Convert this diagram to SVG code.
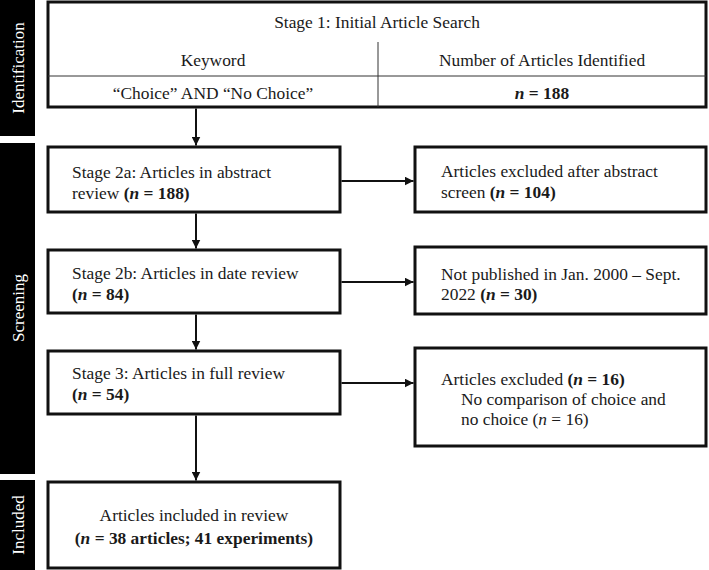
<svg xmlns="http://www.w3.org/2000/svg" width="709" height="570" viewBox="0 0 709 570">
<style>
.box{fill:#fff;stroke:#111;stroke-width:3}
.bar{fill:#000}
.thin{stroke:#333;stroke-width:1;fill:none}
.t{font-family:"Liberation Serif","Times New Roman",serif;font-size:17.4px;fill:#1a1a1a}
.m{text-anchor:middle}
.lab{font-family:"Liberation Serif","Times New Roman",serif;font-size:17px;fill:#fff;text-anchor:middle}
.b{font-weight:bold}
.i{font-style:italic}
.conn{stroke:#111;stroke-width:2;fill:none}
</style>
<defs>
<marker id="ah" viewBox="0 0 10 10" refX="10" refY="5" markerWidth="4.5" markerHeight="4.5" orient="auto" markerUnits="strokeWidth">
<path d="M0,0 L10,5 L0,10 z" fill="#111"/>
</marker>
</defs>

<g id="phase-labels">
<rect class="bar" x="0" y="0" width="35" height="136"/>
<text class="lab" transform="translate(23.5,68) rotate(-90)">Identification</text>
<rect class="bar" x="0" y="143" width="35" height="331"/>
<text class="lab" transform="translate(23.5,308) rotate(-90)">Screening</text>
<rect class="bar" x="0" y="480" width="35" height="90"/>
<text class="lab" transform="translate(23.5,525) rotate(-90)">Included</text>
</g>

<g id="stage1">
<rect class="box" x="48" y="2" width="658" height="105"/>
<line class="thin" x1="48" y1="76" x2="706" y2="76"/>
<line class="thin" x1="378" y1="42" x2="378" y2="107"/>
<text class="t m" x="377" y="28">Stage 1: Initial Article Search</text>
<text class="t m" x="213" y="66">Keyword</text>
<text class="t m" x="542" y="66">Number of Articles Identified</text>
<text class="t m" x="213" y="99">“Choice” AND “No Choice”</text>
<text class="t m b" x="542" y="99"><tspan class="i">n</tspan> = 188</text>
</g>

<g id="stage2a">
<rect class="box" x="48" y="147" width="292" height="65"/>
<text class="t" x="72" y="178">Stage 2a: Articles in abstract</text>
<text class="t" x="72" y="199">review <tspan class="b">(<tspan class="i">n</tspan> = 188)</tspan></text>
</g>

<g id="excl1">
<rect class="box" x="415" y="147" width="291" height="65"/>
<text class="t" x="441" y="177">Articles excluded after abstract</text>
<text class="t" x="441" y="198">screen <tspan class="b">(<tspan class="i">n</tspan> = 104)</tspan></text>
</g>

<g id="stage2b">
<rect class="box" x="48" y="250" width="292" height="63"/>
<text class="t" x="72" y="279">Stage 2b: Articles in date review</text>
<text class="t b" x="72" y="300">(<tspan class="i">n</tspan> = 84)</text>
</g>

<g id="excl2">
<rect class="box" x="415" y="247" width="291" height="67"/>
<text class="t" x="441" y="280">Not published in Jan. 2000 – Sept.</text>
<text class="t" x="441" y="300">2022 <tspan class="b">(<tspan class="i">n</tspan> = 30)</tspan></text>
</g>

<g id="stage3">
<rect class="box" x="48" y="351" width="292" height="63"/>
<text class="t" x="72" y="379">Stage 3: Articles in full review</text>
<text class="t b" x="72" y="400">(<tspan class="i">n</tspan> = 54)</text>
</g>

<g id="excl3">
<rect class="box" x="415" y="348" width="291" height="98"/>
<text class="t" x="441" y="385">Articles excluded <tspan class="b">(<tspan class="i">n</tspan> = 16)</tspan></text>
<text class="t" x="461" y="405">No comparison of choice and</text>
<text class="t" x="461" y="425">no choice (<tspan class="i">n</tspan> = 16)</text>
</g>

<g id="included">
<rect class="box" x="48" y="482" width="292" height="86"/>
<text class="t m" x="194" y="521">Articles included in review</text>
<text class="t m b" x="194" y="544">(<tspan class="i">n</tspan> = 38 articles; 41 experiments)</text>
</g>

<g id="connectors">
<line class="conn" x1="196" y1="108.5" x2="196" y2="145.5" marker-end="url(#ah)"/>
<line class="conn" x1="196" y1="213.5" x2="196" y2="248.5" marker-end="url(#ah)"/>
<line class="conn" x1="196" y1="314.5" x2="196" y2="349.5" marker-end="url(#ah)"/>
<line class="conn" x1="196" y1="415.5" x2="196" y2="480.5" marker-end="url(#ah)"/>
<line class="conn" x1="341.5" y1="181" x2="413.5" y2="181" marker-end="url(#ah)"/>
<line class="conn" x1="341.5" y1="282" x2="413.5" y2="282" marker-end="url(#ah)"/>
<line class="conn" x1="341.5" y1="383" x2="413.5" y2="383" marker-end="url(#ah)"/>
</g>
</svg>
